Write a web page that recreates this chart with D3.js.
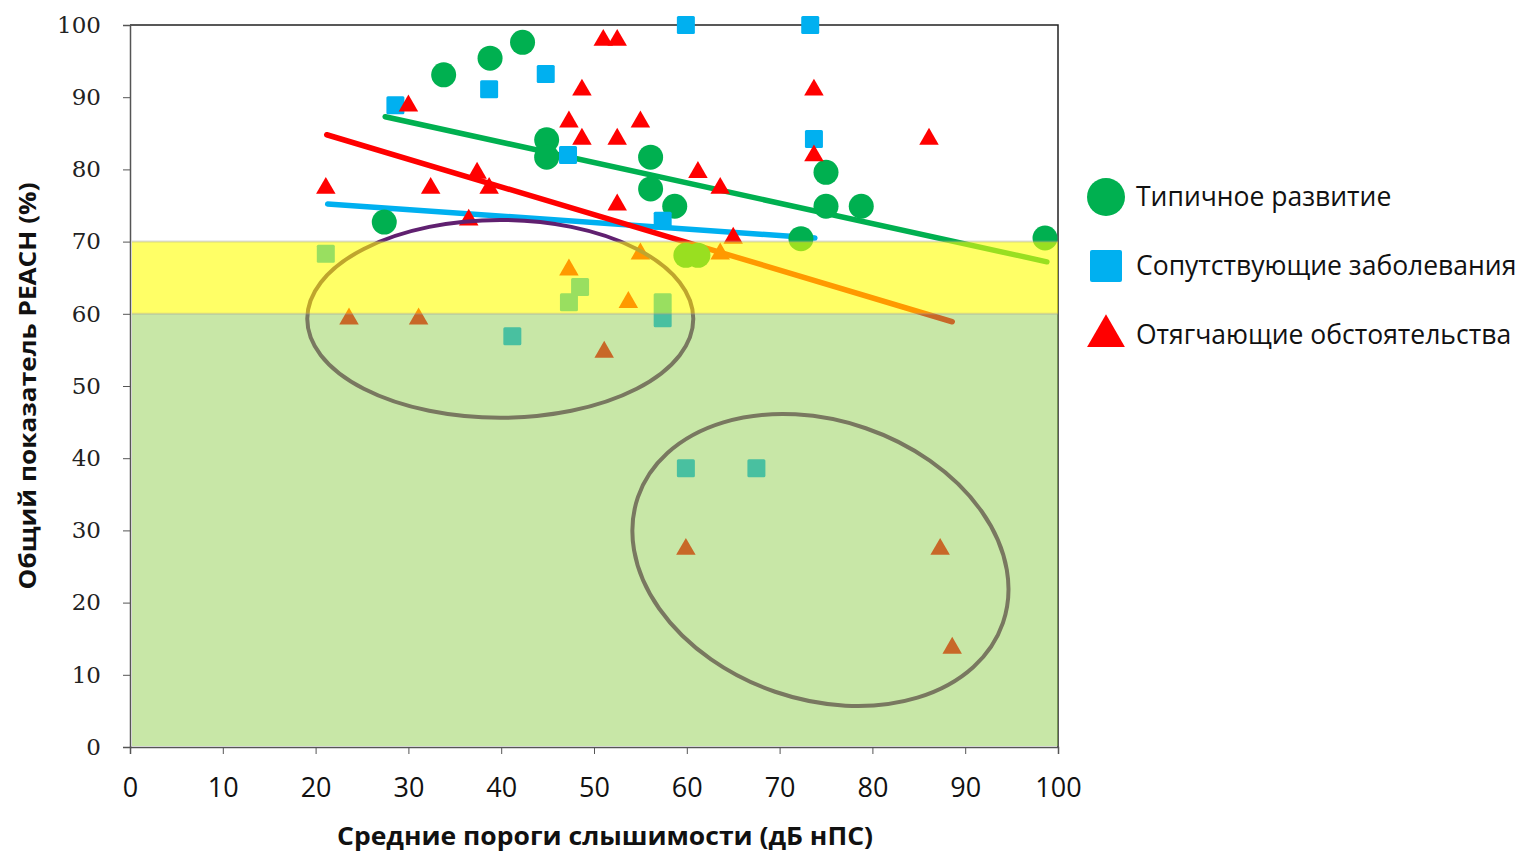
<!DOCTYPE html>
<html>
<head>
<meta charset="utf-8">
<script src="https://cdn.jsdelivr.net/npm/d3@7"></script>
<style>
  body { margin: 0; background: #fff; }
</style>
</head>
<body>
<div id="chart"></div>
<script>
// x: средние пороги слышимости, y: показатель PEACH
const typical = [
  [27.4, 72.7], [33.8, 93.1], [38.8, 95.4], [42.3, 97.6], [44.9, 84.1], [44.9, 81.7],
  [56.1, 81.7], [56.1, 77.3], [58.7, 74.9], [75.0, 79.6], [75.0, 74.9], [78.8, 74.9],
  [72.3, 70.4], [59.9, 68.1], [61.2, 68.1], [98.6, 70.5]
];
const comorbid = [
  [28.6, 88.9], [38.7, 91.1], [44.8, 93.2], [47.2, 82.0], [59.9, 100], [73.3, 100],
  [73.7, 84.2], [57.4, 72.9], [21.1, 68.3], [47.3, 61.6], [48.5, 63.7], [57.4, 61.6],
  [57.4, 59.4], [41.2, 56.9], [59.9, 38.6], [67.5, 38.6]
];
const aggravating = [
  [21.1, 77.4], [30.0, 88.8], [32.4, 77.4], [36.5, 73.0], [37.4, 79.5], [38.7, 77.4],
  [51.0, 97.9], [52.5, 97.9], [48.7, 91.0], [47.3, 86.6], [48.7, 84.2], [55.0, 86.6],
  [52.5, 84.2], [52.5, 75.1], [61.2, 79.6], [63.6, 77.4], [73.7, 91.0], [73.7, 81.9],
  [86.1, 84.2], [65.0, 70.5], [47.3, 66.1], [55.0, 68.3], [63.6, 68.3], [53.7, 61.6],
  [23.6, 59.3], [31.1, 59.3], [51.1, 54.7], [59.9, 27.4], [87.3, 27.4], [88.6, 13.7]
];

// линии тренда (начало, конец)
const trendTypical = [[27.5, 87.3], [98.8, 67.2]];
const trendComorbid = [[21.3, 75.2], [73.8, 70.5]];
const trendAggravating = [[21.2, 84.8], [88.6, 58.9]];

// выделенные группы (центр, полуоси в единицах осей, наклон в градусах)
const groups = [
  {cx: 39.9, cy: 59.3, rx: 20.8, ry: 13.7, angle: 0},
  {cx: 74.4, cy: 25.9, rx: 20.8, ry: 19.3, angle: 19}
];

// зоны по оси Y
const zoneLow = [0, 60];
const zoneMid = [60, 70];

const xTicks = d3.range(0, 101, 10);
const yTicks = d3.range(0, 101, 10);

const seriesNames = ["Типичное развитие", "Сопутствующие заболевания", "Отягчающие обстоятельства"];

const margin = {top: 25, right: 472, bottom: 105, left: 130};
const width = 1530 - margin.left - margin.right;
const height = 852 - margin.top - margin.bottom;

const svg = d3.select("#chart").append("svg")
  .attr("width", 1530)
  .attr("height", 852);

const g = svg.append("g")
  .attr("transform", `translate(${margin.left},${margin.top})`);

const x = d3.scaleLinear().domain([0, 100]).range([0, width]);
const y = d3.scaleLinear().domain([0, 100]).range([height, 0]);

// рамка сверху и справа
g.append("path")
  .attr("d", `M0,0H${width}V${height}`)
  .attr("fill", "none")
  .attr("stroke", "#222")
  .attr("stroke-width", 1.5);

const xAxis = g.append("g")
  .attr("transform", `translate(0,${height})`)
  .call(d3.axisBottom(x).tickValues(xTicks).tickSize(7).tickPadding(24));
xAxis.select(".domain").attr("stroke", "#555").attr("stroke-width", 1.5);
xAxis.selectAll(".tick line").attr("stroke", "#555");
xAxis.selectAll("text")
  .attr("font-family", "'Open Sans', sans-serif")
  .attr("font-size", 27)
  .attr("fill", "#111");

const yAxis = g.append("g")
  .call(d3.axisLeft(y).tickValues(yTicks).tickSize(7).tickPadding(22));
yAxis.select(".domain").attr("stroke", "#555").attr("stroke-width", 1.5);
yAxis.selectAll(".tick line").attr("stroke", "#555");
yAxis.selectAll("text")
  .attr("font-family", "'DejaVu Serif', serif")
  .attr("font-size", 23)
  .attr("fill", "#222");

// линии тренда
const line = d3.line().x(d => x(d[0])).y(d => y(d[1]));
[[trendComorbid, "#00B0F0"], [trendAggravating, "#FF0000"], [trendTypical, "#00B050"]].forEach(([pts, c]) => {
  g.append("path")
    .attr("d", line(pts))
    .attr("fill", "none")
    .attr("stroke", c)
    .attr("stroke-width", 5.5)
    .attr("stroke-linecap", "round");
});

// точки
g.selectAll(".typ")
  .data(typical)
  .enter().append("circle")
    .attr("cx", d => x(d[0]))
    .attr("cy", d => y(d[1]))
    .attr("r", 12.5)
    .attr("fill", "#00B050");

g.selectAll(".com")
  .data(comorbid)
  .enter().append("rect")
    .attr("x", d => x(d[0]) - 9)
    .attr("y", d => y(d[1]) - 9)
    .attr("width", 18)
    .attr("height", 18)
    .attr("rx", 1.5)
    .attr("fill", "#00B0F0");

const tri = d3.symbol().type(d3.symbolTriangle).size(165);
g.selectAll(".agg")
  .data(aggravating)
  .enter().append("path")
    .attr("d", tri)
    .attr("transform", d => `translate(${x(d[0])},${y(d[1])})`)
    .attr("fill", "#FF0000");

// эллипсы
g.selectAll(".grp")
  .data(groups)
  .enter().append("ellipse")
    .attr("transform", d => `translate(${x(d.cx)},${y(d.cy)}) rotate(${d.angle})`)
    .attr("rx", d => x(d.rx) - x(0))
    .attr("ry", d => y(0) - y(d.ry))
    .attr("fill", "none")
    .attr("stroke", "#602070")
    .attr("stroke-width", 4);

// полупрозрачные зоны поверх
g.append("rect")
  .attr("x", x(0) + 2)
  .attr("y", y(zoneLow[1]))
  .attr("width", x(100) - x(0) - 2)
  .attr("height", y(zoneLow[0]) - y(zoneLow[1]) - 1)
  .attr("fill", "#92D050")
  .attr("fill-opacity", 0.5);

g.append("rect")
  .attr("x", x(0) + 2)
  .attr("y", y(zoneMid[1]))
  .attr("width", x(100) - x(0) - 2)
  .attr("height", y(zoneMid[0]) - y(zoneMid[1]))
  .attr("fill", "#FFFF00")
  .attr("fill-opacity", 0.6);

[zoneMid[1], zoneMid[0]].forEach(v => {
  g.append("line")
    .attr("x1", x(0) + 2).attr("x2", x(100))
    .attr("y1", y(v)).attr("y2", y(v))
    .attr("stroke", "#999")
    .attr("stroke-opacity", 0.35)
    .attr("stroke-width", 2);
});

// подписи осей
svg.append("text")
  .attr("x", 605)
  .attr("y", 845)
  .attr("text-anchor", "middle")
  .attr("font-family", "'Open Sans', sans-serif")
  .attr("font-weight", "bold")
  .attr("font-size", 25)
  .attr("textLength", 536)
  .attr("lengthAdjust", "spacingAndGlyphs")
  .attr("fill", "#111")
  .text("Средние пороги слышимости (дБ нПС)");

svg.append("text")
  .attr("transform", "translate(36,386) rotate(-90)")
  .attr("text-anchor", "middle")
  .attr("font-family", "'Open Sans', sans-serif")
  .attr("font-weight", "bold")
  .attr("font-size", 24)
  .attr("textLength", 407)
  .attr("lengthAdjust", "spacingAndGlyphs")
  .attr("fill", "#111")
  .text("Общий показатель PEACH (%)");

// легенда
const legend = svg.append("g").attr("transform", "translate(1106,197)");
const legendRows = legend.selectAll("g")
  .data(seriesNames)
  .enter().append("g")
    .attr("transform", (d, i) => `translate(0,${i * 69})`);

legendRows.each(function(d, i) {
  const row = d3.select(this);
  if (i === 0) {
    row.append("circle").attr("r", 19).attr("fill", "#00B050");
  } else if (i === 1) {
    row.append("rect").attr("x", -16).attr("y", -16).attr("width", 32).attr("height", 32)
      .attr("rx", 2).attr("fill", "#00B0F0");
  } else {
    row.append("path").attr("d", d3.symbol().type(d3.symbolTriangle).size(620))
      .attr("transform", "translate(0,1)")
      .attr("fill", "#FF0000");
  }
  row.append("text")
    .attr("x", 30)
    .attr("y", 9)
    .attr("font-family", "'Open Sans', sans-serif")
    .attr("font-size", 26.5)
    .attr("fill", "#111")
    .text(d);
});
</script>
</body>
</html>
